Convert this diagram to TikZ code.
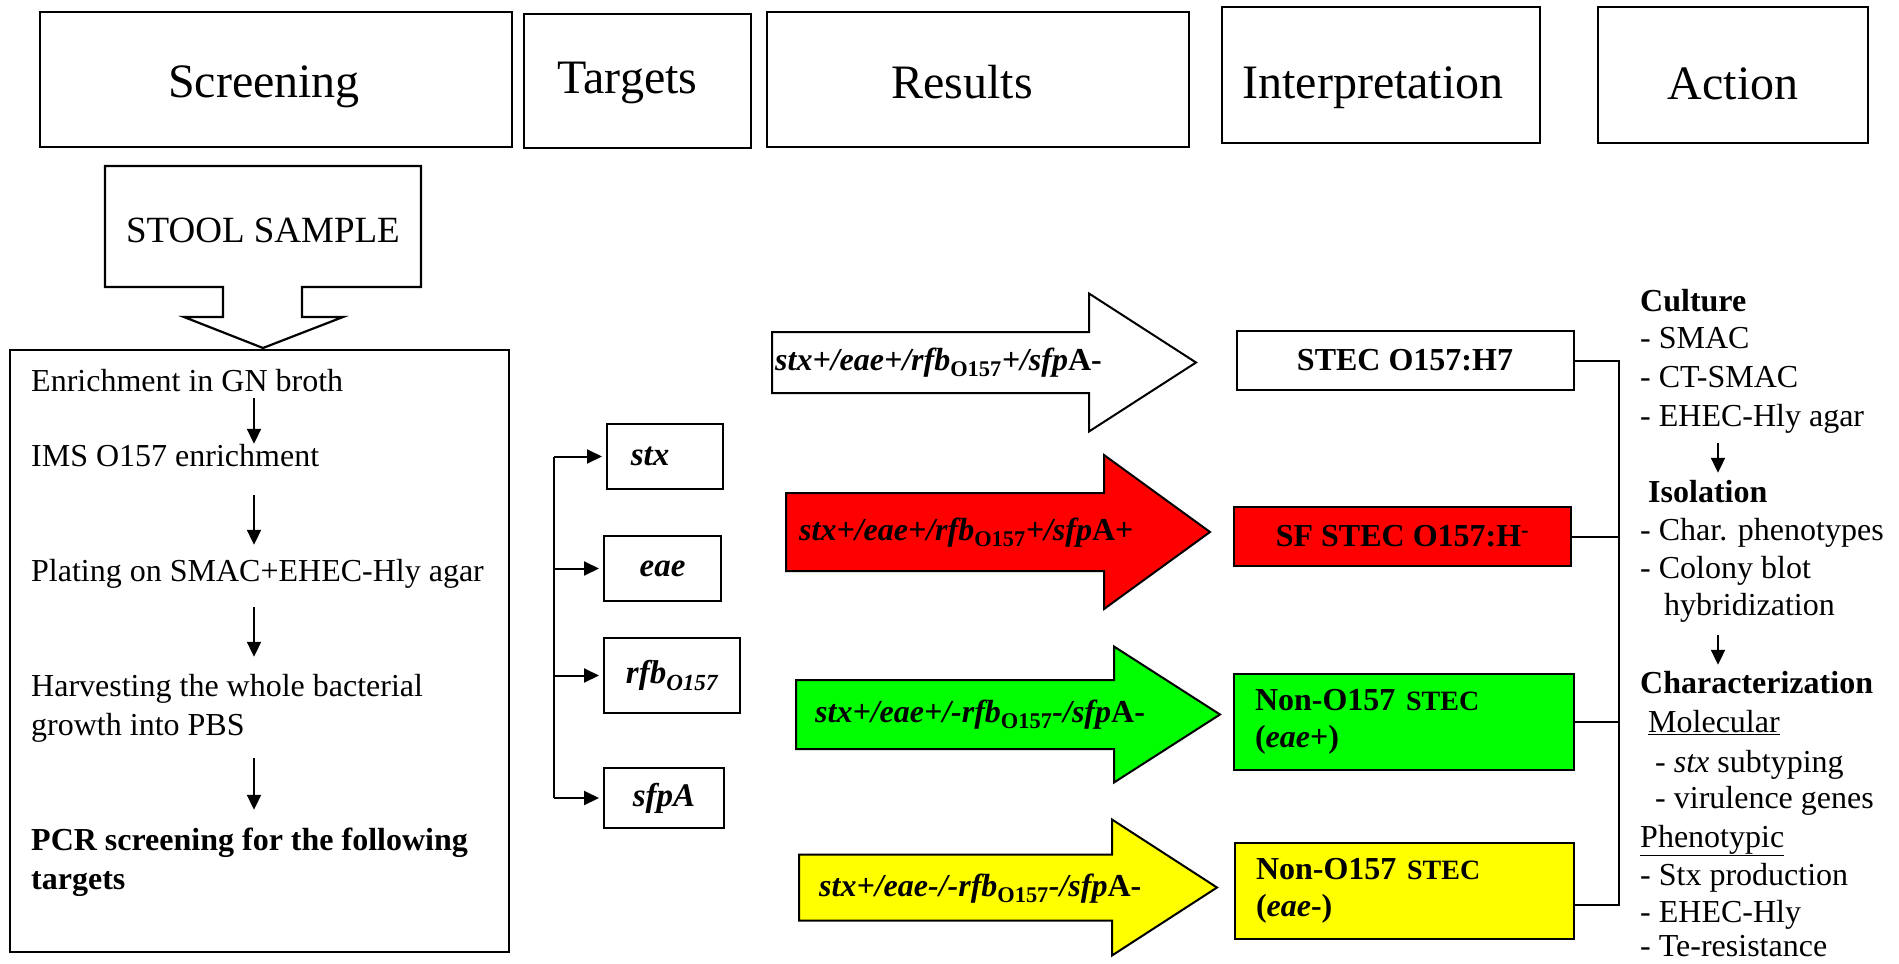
\documentclass[tikz,border=0pt]{standalone}
\usepackage{fontspec}
\setmainfont{Liberation Serif}
\usetikzlibrary{positioning,arrows.meta}
\definecolor{r_red}{HTML}{FF0000}
\definecolor{r_green}{HTML}{00FF00}
\definecolor{r_yellow}{HTML}{FFFF00}

\begin{document}
\begin{tikzpicture}[
        x=1pt, y=-1pt,
        every node/.style={inner sep=0pt},
        head/.style={draw,line width=2.2pt},
        htext/.style={anchor=base,font=\fontsize{48}{58}\selectfont},
        box/.style={draw,line width=2.2pt},
        txt/.style={anchor=base west,text height=22pt,text depth=7pt,font=\fontsize{32}{38}\selectfont},
        target/.style={draw,line width=2pt,font=\fontsize{33}{40}\selectfont\bfseries\itshape},
        interp/.style={draw,line width=2pt,font=\fontsize{32}{37}\selectfont\bfseries},
        res/.style={anchor=base west,font=\fontsize{32}{38}\selectfont\bfseries\itshape},
        link/.style={line width=2pt},
        tip/.style={line width=2pt,-{Triangle[length=15pt,width=14pt]}}
    ]
    \useasboundingbox (0,0) rectangle (1899,964);

    % column headers
    \node[head,minimum width=472pt,minimum height=135pt] (screen) at (276,79.5) {};
    \node[head,minimum width=227pt,minimum height=134pt] (targets) at (637.5,81) {};
    \node[head,minimum width=422pt,minimum height=135pt] (results) at (978,79.5) {};
    \node[head,minimum width=318pt,minimum height=136pt] (interpr) at (1381,75) {};
    \node[head,minimum width=270pt,minimum height=136pt] (action) at (1733,75) {};
    \node[htext] (screen-l) at ([shift={(-12,17.5)}]screen.center) {Screening};
    \node[htext] (targets-l) at ([shift={(-10,12)}]targets.center) {Targets};
    \node[htext] (results-l) at ([shift={(-16,18.5)}]results.center) {Results};
    \node[htext] (interpr-l) at ([shift={(-8,23.5)}]interpr.center) {Interpretation};
    \node[htext] (action-l) at ([shift={(0,24)}]action.center) {Action};

    % stool sample callout
    \draw[line width=2.2pt] (105,166) -- (421,166) -- (421,287) -- (302,287) -- (302,317)
        -- (343,317) -- (263,348) -- (184,317) -- (223,317) -- (223,287) -- (105,287) -- cycle;
    \node[font=\fontsize{37}{44}\selectfont] (stool) at (263,230) {STOOL SAMPLE};

    % screening steps
    \node[box,minimum width=499pt,minimum height=602pt] (proc) at (259.5,651) {};
    \foreach \n/\y/\t in {p1/391/{Enrichment in GN broth}, p2/466/{IMS O157 enrichment},
            p3/581/{Plating on SMAC+EHEC-Hly agar}, p4/696/{Harvesting the whole bacterial},
            p5/735/{growth into PBS}, p6/850/{\bfseries PCR screening for the following},
            p7/889/{\bfseries targets}}
        \node[txt] (\n) at (31,\y) {\t};
    \coordinate (pax) at (254,0);
    \foreach \pa/\pb/\sa/\sb in {p1/p2/0/0, p2/p3/22/14, p3/p4/19/17, p5/p6/16/18}
        \draw[tip,shorten <=\sa pt,shorten >=\sb pt] (\pa.south -| pax) -- (\pb.north -| pax);

    % targets
    \node[target,minimum width=116pt,minimum height=65pt] (stx) at (665,456.5) {stx\hspace*{30pt}};
    \node[target,minimum width=117pt,minimum height=65pt] (eae) at (662.5,568.5) {eae};
    \node[target,minimum width=136pt,minimum height=75pt] (rfb) at (672,675.5) {rfb\textsubscript{O157}};
    \node[target,minimum width=120pt,minimum height=60pt] (sfpa) at (664,798) {sfpA};
    \coordinate (tbus) at (554,0);
    \draw[link] (stx.west -| tbus) -- (sfpa.west -| tbus);
    \foreach \tg in {stx,eae,rfb,sfpa}
        \draw[tip,shorten >=4pt] (\tg.west -| tbus) -- (\tg.west);

    % result arrows
    \foreach \c/\xa/\xb/\xc/\yc/\bh/\hh in {white/772/1089/1196/362.5/30.5/69,
            r_red/786/1104/1210/532/39/77, r_green/796/1114/1220/714.5/34.5/68,
            r_yellow/799/1112/1217/887.5/33/68}
        \filldraw[fill=\c,line width=2pt] (\xa,\yc-\bh) -- (\xb,\yc-\bh) -- (\xb,\yc-\hh) -- (\xc,\yc)
            -- (\xb,\yc+\hh) -- (\xb,\yc+\bh) -- (\xa,\yc+\bh) -- cycle;
    \node[res] (resa) at (775,370) {stx+/eae+/rfb\textsubscript{\upshape O157}+/sfp\upshape A-};
    \node[res] (resb) at (799,540) {stx+/eae+/rfb\textsubscript{\upshape O157}+/sfp\upshape A+};
    \node[res] (resc) at (815,722) {stx+/eae+/-rfb\textsubscript{\upshape O157}-/sfp\upshape A-};
    \node[res] (resd) at (819,896) {stx+/eae-/-rfb\textsubscript{\upshape O157}-/sfp\upshape A-};

    % interpretation
    \node[interp,minimum width=337pt,minimum height=59pt] (stec) at (1405,360.5) {STEC O157:H7};
    \node[interp,fill=r_red,minimum width=337pt,minimum height=59pt] (sf) at (1402.5,536.5) {SF STEC O157:H\textsuperscript{-}};
    \node[interp,fill=r_green,minimum width=340pt,minimum height=96pt,text width=298pt,align=left] (nona) at (1404,722)
        {Non-O157 {\fontsize{28}{32}\selectfont STEC}\\(\textit{eae}+)};
    \node[interp,fill=r_yellow,minimum width=339pt,minimum height=96pt,text width=297pt,align=left] (nonb) at (1404.5,891)
        {Non-O157 {\fontsize{28}{32}\selectfont STEC}\\(\textit{eae}-)};
    \coordinate (bus) at (1619,0);
    \coordinate (nonb-out) at ([yshift=-14pt]nonb.east);
    \draw[link] (stec.east) -- (stec.east -| bus) -- (bus |- nonb-out) -- (nonb-out);
    \foreach \nd in {sf,nona}
        \draw[link] (\nd.east) -- (\nd.east -| bus);

    % action
    \foreach \n/\x/\y/\t in {a1/1640/311/{\bfseries Culture}, a2/1640/348/{- SMAC},
            a3/1640/387/{- CT-SMAC}, a4/1640/426/{- EHEC-Hly agar},
            a5/1648/502/{\bfseries Isolation}, a6/1640/540/{- Char. phenotypes},
            a7/1640/578/{- Colony blot}, a8/1664/615/{hybridization},
            a9/1640/693/{\bfseries Characterization}, a10/1648/732/{\underline{Molecular}},
            a11/1655/772/{- \textit{stx} subtyping}, a12/1655/808/{- virulence genes},
            a13/1640/847/{\underline{Phenotypic}}, a14/1640/885/{- Stx production},
            a15/1640/922/{- EHEC-Hly}, a16/1640/956/{- Te-resistance}}
        \node[txt] (\n) at (\x,\y) {\t};
    \coordinate (aax) at (1718,0);
    \draw[tip,shorten <=10pt,shorten >=7pt] (a4.south -| aax) -- (a5.north -| aax);
    \draw[tip,shorten <=13pt,shorten >=6pt] (a8.south -| aax) -- (a9.north -| aax);
\end{tikzpicture}
\end{document}
